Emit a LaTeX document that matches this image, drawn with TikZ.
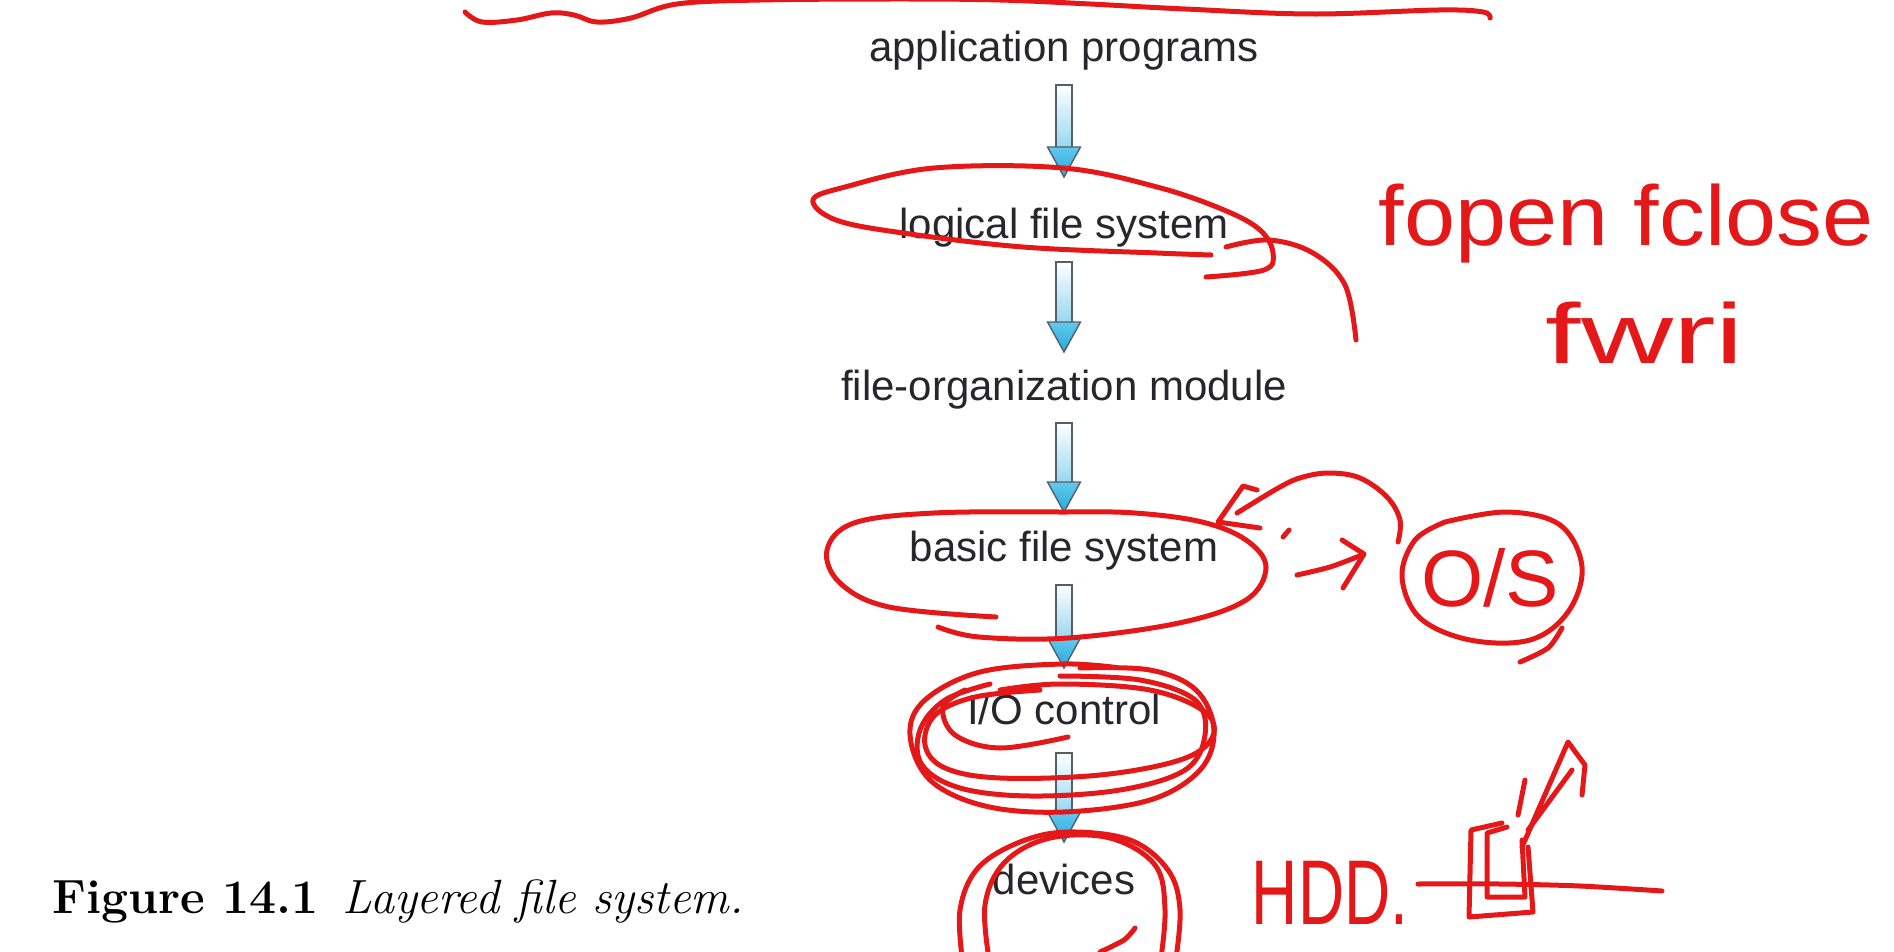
\documentclass[tikz,border=0pt]{standalone}
\usepackage{fontspec}
\usepackage{graphicx}
\newfontfamily\labelfont{Liberation Sans}
\usetikzlibrary{calc}
\definecolor{textgray}{RGB}{38,38,44}
\definecolor{inkred}{RGB}{228,24,24}
\definecolor{arrowgray}{RGB}{85,95,105}
\definecolor{shaftblue}{RGB}{150,214,240}
\definecolor{headtop}{RGB}{100,200,238}
\definecolor{headbot}{RGB}{35,170,222}
\tikzset{
  layer/.style={font=\labelfont\fontsize{42}{50}\selectfont, text=textgray, anchor=base, inner sep=0pt},
  ink/.style={draw=inkred, line width=5pt, line cap=round, line join=round},
  inktext/.style={text=inkred, anchor=base, inner sep=0pt},
  shaftstyle/.style={draw=arrowgray, line width=1.4pt, top color=white, bottom color=shaftblue},
  headstyle/.style={draw=arrowgray, line width=1.4pt, line join=miter, top color=headtop, bottom color=headbot},
}
\newcommand{\blockarrow}[2]{%
  \path[shaftstyle] let \p1=(#1), \p2=(#2) in (\x1-8pt,\y1) rectangle (\x1+8pt,\y2+29pt);
  \path[headstyle] let \p1=(#1), \p2=(#2) in (\x1-16.5pt,\y2+30pt) -- (\x1+16.5pt,\y2+30pt) -- (\x2,\y2) -- cycle;
}
\begin{document}
\begin{tikzpicture}[x=1pt,y=-1pt]
\useasboundingbox[fill=white] (0,0) rectangle (1894,952);

% layers
\node[layer] (ap)  at (1064,62)  {application programs};
\node[layer] (lfs) at (1064,238) {logical file system};
\node[layer] (fom) at (1064,400) {file-organization module};
\node[layer] (bfs) at (1064,561) {basic file system};
\node[layer] (ioc) at (1064,724) {I/O control};
\node[layer] (dev) at (1064,894) {devices};

% block arrows
\coordinate (a1s) at (1064,85);  \coordinate (a1e) at (1064,177);
\coordinate (a2s) at (1064,262); \coordinate (a2e) at (1064,352);
\coordinate (a3s) at (1064,423); \coordinate (a3e) at (1064,512);
\coordinate (a4s) at (1064,585); \coordinate (a4e) at (1064,668);
\coordinate (a5s) at (1064,753); \coordinate (a5e) at (1064,842);
\blockarrow{a1s}{a1e}
\blockarrow{a2s}{a2e}
\blockarrow{a3s}{a3e}
\blockarrow{a4s}{a4e}
\blockarrow{a5s}{a5e}

% caption
\node[anchor=base west, inner sep=0pt, font=\fontsize{48}{56}\selectfont, text=black] (cap) at (52,913)
  {\textbf{Figure 14.1}\hspace{24pt}\textit{Layered file system.}};

% ---------- red handwritten annotations ----------
% top underline
\draw[ink] plot[smooth, tension=0.6] coordinates {(465,12) (482,22) (517,20) (551,13) (574,15) (597,22) (631,18) (677,4) (760,0) (900,-1) (1000,0) (1090,4) (1185,9) (1312,14) (1439,10) (1483,12) (1490,18)};

% logical file system loop
\draw[ink] plot[smooth, tension=0.6] coordinates {(1211,255) (1157,253) (1023,247) (903,233) (836,220) (813,200) (845,187) (934,168) (1063,168) (1157,187) (1224,210) (1260,230) (1273,253) (1264,270) (1206,277)};
\draw[ink] plot[smooth, tension=0.6] coordinates {(1226,247) (1269,240) (1313,253) (1345,285) (1356,340)};

% basic file system loop
\draw[ink] plot[smooth, tension=0.6] coordinates {(996,617) (889,607) (840,583) (827,550) (854,523) (934,513) (1063,512) (1135,513) (1202,522) (1246,540) (1266,567) (1246,600) (1179,623) (1068,638) (979,637) (938,627)};

% curved arrow back to basic file system
\draw[ink] plot[smooth, tension=0.6] coordinates {(1398,542) (1400,520) (1387,497) (1360,478) (1330,473) (1303,477) (1280,487) (1237,513)};
\draw[ink] (1257,490) -- (1243,486) -- (1218,522) -- (1260,528);
\draw[ink] (1283,537) -- (1289,530);
% arrow to O/S
\draw[ink] plot[smooth] coordinates {(1297,575) (1330,567) (1362,555)};
\draw[ink] (1342,540) -- (1364,554) -- (1343,588);

% O/S circle
\node[inktext, font=\labelfont\fontsize{80}{90}\selectfont] (os) at (1490,606) {O/S};
\draw[ink] plot[smooth, tension=0.6] coordinates {(1445,522) (1507,512) (1560,525) (1582,567) (1568,612) (1530,640) (1470,640) (1420,618) (1402,577) (1415,540) (1445,522)};
\draw[ink] plot[smooth] coordinates {(1562,628) (1548,648) (1520,662)};

% fopen fclose / fwri
\node[inktext, font=\labelfont\fontsize{85}{90}\selectfont] (fo) at (1626,245) {\scalebox{1.08}[1]{fopen fclose}};
\node[inktext, font=\labelfont\fontsize{85}{90}\selectfont] (fw) at (1645,363) {\scalebox{1.5}[1]{fwri}};

% I/O control scribbles
\draw[ink] plot[smooth, tension=0.6] coordinates {(1120,668) (1063,664) (980,672) (925,700) (910,735) (930,780) (985,806) (1063,812) (1150,800) (1200,770) (1214,730) (1196,690) (1150,670) (1080,668)};
\draw[ink] plot[smooth, tension=0.6] coordinates {(1000,690) (1060,684) (1150,690) (1205,712) (1212,738) (1180,760) (1100,775) (1000,778) (945,768) (925,745) (935,715) (975,697) (1040,690)};
\draw[ink] plot[smooth, tension=0.6] coordinates {(1060,676) (1140,680) (1195,700) (1205,735) (1185,770) (1120,790) (1030,796) (960,788) (922,765) (920,730) (945,700) (990,684)};
\draw[ink] plot[smooth, tension=0.6] coordinates {(1068,737) (1000,748) (955,735) (943,707) (965,690)};

% devices circle
\draw[ink] plot[smooth, tension=0.6] coordinates {(963,965) (960,910) (978,868) (1020,842) (1068,832) (1130,840) (1168,870) (1180,910) (1175,965)};
\draw[ink] plot[smooth, tension=0.6] coordinates {(990,965) (985,905) (1005,862) (1050,838) (1110,838) (1155,865) (1165,910) (1160,965)};
\draw[ink] plot[smooth] coordinates {(1100,952) (1124,940) (1135,928)};

% HDD
\node[inktext, font=\labelfont\fontsize{80}{90}\selectfont] (hdd) at (1330,924) {\scalebox{0.8}[1.15]{HDD.}};
\draw[ink] plot[smooth] coordinates {(1418,884) (1500,884) (1580,886) (1662,891)};
\draw[ink] (1502,823) -- (1471,830) -- (1469,917) -- (1533,912) -- (1528,847);
\draw[ink] (1507,827) -- (1487,833) -- (1487,897) -- (1525,897) -- (1522,840);
\draw[ink] (1522,847) -- (1568,742) -- (1585,765) -- (1582,795);
\draw[ink] (1528,830) -- (1572,770);
\draw[ink] (1525,780) -- (1518,815);
\end{tikzpicture}
\end{document}
